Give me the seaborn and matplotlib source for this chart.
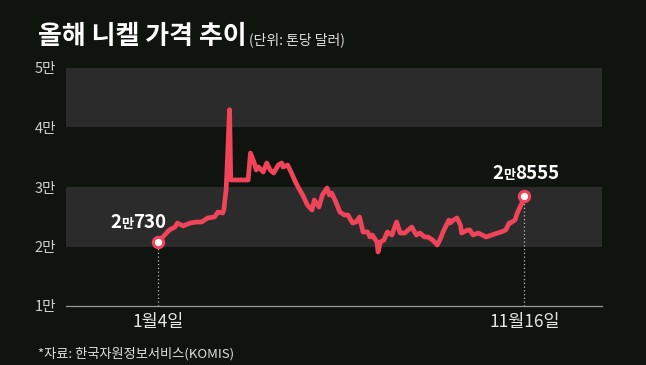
import pandas as pd
import matplotlib
matplotlib.use("Agg")
import matplotlib.pyplot as plt
from matplotlib.offsetbox import TextArea, HPacker, AnnotationBbox
import seaborn as sns

# nickel price, USD per ton
dates = ["2022-01-04", "2022-01-10", "2022-01-14", "2022-01-19", "2022-01-21",
         "2022-01-26", "2022-02-01", "2022-02-07", "2022-02-11", "2022-02-16",
         "2022-02-22", "2022-02-25", "2022-03-01", "2022-03-02", "2022-03-03",
         "2022-03-04", "2022-03-07", "2022-03-08", "2022-03-23", "2022-03-25",
         "2022-03-28", "2022-03-30", "2022-04-01", "2022-04-05", "2022-04-08",
         "2022-04-11", "2022-04-14", "2022-04-18", "2022-04-21", "2022-04-22",
         "2022-04-26", "2022-04-29", "2022-05-02", "2022-05-05", "2022-05-09",
         "2022-05-11", "2022-05-13", "2022-05-17", "2022-05-19", "2022-05-23",
         "2022-05-26", "2022-05-30", "2022-06-01", "2022-06-03", "2022-06-07",
         "2022-06-10", "2022-06-14", "2022-06-17", "2022-06-21", "2022-06-24",
         "2022-06-27", "2022-06-30", "2022-07-04", "2022-07-06", "2022-07-08",
         "2022-07-12", "2022-07-13", "2022-07-15", "2022-07-18", "2022-07-21",
         "2022-07-25", "2022-07-27", "2022-07-29", "2022-08-01", "2022-08-05",
         "2022-08-08", "2022-08-11", "2022-08-15", "2022-08-18", "2022-08-22",
         "2022-08-25", "2022-08-29", "2022-09-02", "2022-09-05", "2022-09-07",
         "2022-09-12", "2022-09-13", "2022-09-16", "2022-09-19", "2022-09-22",
         "2022-09-23", "2022-09-28", "2022-09-30", "2022-10-03", "2022-10-07",
         "2022-10-11", "2022-10-14", "2022-10-19", "2022-10-24", "2022-10-27",
         "2022-10-31", "2022-11-03", "2022-11-04", "2022-11-08", "2022-11-10",
         "2022-11-14", "2022-11-16"]
prices = [20730, 21930, 22770, 23280, 23950,
          23450, 23950, 24120, 24120, 24790,
          24960, 25800, 25630, 26130, 27820,
          29500, 43000, 31180, 31180, 35700,
          34200, 32860, 33360, 32520, 34030,
          32860, 32350, 33700, 34030, 33360,
          33700, 32520, 31180, 30000, 28660,
          27820, 27000, 26130, 27820, 26640,
          28660, 29830, 28660, 28990, 27310,
          25800, 25290, 25290, 23950, 24120,
          24960, 22440, 22440, 21600, 21930,
          20760, 19080, 20760, 21090, 22440,
          21930, 23110, 24120, 22270, 22270,
          22770, 23280, 21930, 22270, 21600,
          21600, 21090, 20250, 21430, 22440,
          24450, 23950, 24450, 24790, 23610,
          22270, 22770, 22770, 21930, 22270,
          21930, 21600, 21930, 22270, 22440,
          22770, 23950, 23950, 24450, 25630,
          27310, 28555]

ytick_vals = [10000, 20000, 30000, 40000, 50000]
ytick_labels = ["1만", "2만", "3만", "4만", "5만"]
xtick_dates = ["2022-01-04", "2022-11-16"]
xtick_labels = ["1월4일", "11월16일"]
title = "올해 니켈 가격 추이"
unit = "(단위: 톤당 달러)"
source = "*자료: 한국자원정보서비스(KOMIS)"

bg = "#0f140f"
band = "#2b2b2b"
red = "#ef4459"
font = ["Noto Sans CJK KR", "DejaVu Sans"]

sns.set_theme(style="dark")
plt.rcParams["font.family"] = font

df = pd.DataFrame({"date": pd.to_datetime(dates), "price": prices})

fig = plt.figure(figsize=(6.46, 3.65), dpi=100, facecolor=bg)
ax = fig.add_axes([66 / 646, 1 - 306 / 365, 536 / 646, 238 / 365])
ax.set_facecolor(bg)

ax.axhspan(20000, 30000, color=band, lw=0, zorder=0)
ax.axhspan(40000, 50000, color=band, lw=0, zorder=0)

sns.lineplot(data=df, x="date", y="price", ax=ax, color=red, lw=3.4,
             solid_joinstyle="round", solid_capstyle="round", zorder=3)

ends = df.iloc[[0, -1]]
ax.vlines(ends["date"], 10000, ends["price"], colors="#b8b8b8",
          linestyles=(0, (1, 2)), lw=0.9, zorder=2)
sns.scatterplot(data=ends, x="date", y="price", ax=ax, s=55,
                color="white", edgecolor=red, linewidth=2.2, zorder=4)

ax.set_xlim(pd.Timestamp("2021-10-17"), pd.Timestamp("2023-01-22"))
ax.set_ylim(10000, 50000)
ax.set_yticks(ytick_vals)
ax.set_yticklabels(ytick_labels)
ax.set_xticks(pd.to_datetime(xtick_dates))
ax.set_xticklabels(xtick_labels)
ax.tick_params(axis="y", length=0, pad=7, labelsize=10.5, labelcolor="#cfcfcf")
ax.tick_params(axis="x", length=0, pad=5, labelsize=12.5, labelcolor="#e6e6e6")
ax.set_xlabel("")
ax.set_ylabel("")
for side in ["top", "right", "left"]:
    ax.spines[side].set_visible(False)
ax.spines["bottom"].set_color("#9a9a9a")
ax.spines["bottom"].set_linewidth(0.9)
ax.grid(False)


def value_label(xy, big1, small, big2, offset):
    big = dict(color="white", fontsize=13.5, fontweight="bold", family=font)
    sm = dict(color="white", fontsize=9.5, fontweight="bold", family=font)
    box = HPacker(children=[TextArea(big1, textprops=big),
                            TextArea(small, textprops=sm),
                            TextArea(big2, textprops=big)],
                  align="baseline", pad=0, sep=0)
    ab = AnnotationBbox(box, xy, xybox=offset, xycoords="data",
                        boxcoords="offset points", box_alignment=(0.5, 0),
                        frameon=False, pad=0, zorder=5)
    ax.add_artist(ab)


value_label((df["date"].iloc[0], prices[0]), "2", "만", "730", (-14, 7))
value_label((df["date"].iloc[-1], prices[-1]), "2", "만", "8555", (1, 9))

fig.text(38 / 646, 1 - 44 / 365, title, color="white", fontsize=18.7,
         fontweight="bold", va="baseline", ha="left")
fig.text(249 / 646, 1 - 44 / 365, unit, color="#e0e0e0", fontsize=10,
         va="baseline", ha="left")
fig.text(38 / 646, 1 - 358 / 365, source, color="#e0e0e0", fontsize=9.5,
         va="baseline", ha="left")

fig.savefig("out.png", dpi=100, facecolor=bg)
